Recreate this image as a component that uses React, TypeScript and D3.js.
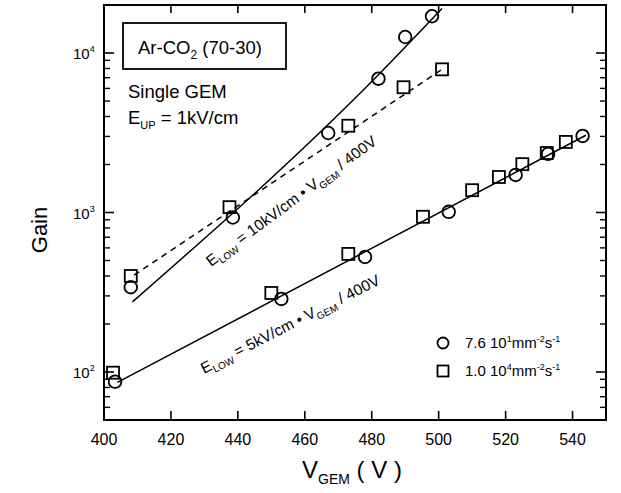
import React from "react";
import * as d3 from "d3";

// ---- data ----
const xTicks = [400, 420, 440, 460, 480, 500, 520, 540];
const yMajor = [100, 1000, 10000];
const yMajorExp = ["2", "3", "4"];

// E_LOW = 10 kV/cm series
const upperCircleV = [408, 438.5, 467, 482, 490, 498];
const upperCircleG = [340, 930, 3150, 6900, 12600, 17000];
const upperSquareV = [408, 437.5, 473, 489.5, 501];
const upperSquareG = [400, 1080, 3500, 6100, 7900];

// E_LOW = 5 kV/cm series
const lowerCircleV = [403.3, 453, 478, 503, 523, 532.7, 543];
const lowerCircleG = [87, 287, 526, 1010, 1720, 2330, 3020];
const lowerSquareV = [402.7, 450, 473, 495.3, 510, 518, 525, 532.3, 538];
const lowerSquareG = [99, 313, 550, 940, 1380, 1670, 2010, 2360, 2770];

// fit lines
const upperFitV = [408.5, 482, 501];
const upperFitG = [275, 7300, 19000];
const dashFitV = [409, 501];
const dashFitG = [405, 7900];
const lowerFitV = [404, 544];
const lowerFitG = [86, 3050];

const FONT = "'Liberation Sans', Arial, Helvetica, sans-serif";

export default function App() {
  const W = 621, H = 493;
  const left = 104, right = 606, top = 5, bottom = 420;
  const x = d3.scaleLinear().domain([400, 550]).range([left, right]);
  const y = d3.scaleLog().domain([50, 20000]).range([bottom, top]);

  const zip = (vs: number[], gs: number[]) => vs.map((v, i) => [v, gs[i]] as [number, number]);
  const line = d3.line<[number, number]>().x(d => x(d[0])).y(d => y(d[1]));
  const smooth = d3.line<[number, number]>().x(d => x(d[0])).y(d => y(d[1])).curve(d3.curveMonotoneX);

  const minorTicks: number[] = [];
  [10, 100, 1000, 10000].forEach(dec => {
    for (let k = 2; k <= 9; k++) {
      const v = dec * k;
      if (v >= 50 && v <= 20000) minorTicks.push(v);
    }
  });

  const circles = [...zip(upperCircleV, upperCircleG), ...zip(lowerCircleV, lowerCircleG)];
  const squares = [...zip(upperSquareV, upperSquareG), ...zip(lowerSquareV, lowerSquareG)];
  const r = 6.3, s = 12;

  return (
    <svg width={W} height={H} style={{ position: "absolute", left: 0, top: 0, background: "#fff" }} fontFamily={FONT}>
      <rect x={0} y={0} width={W} height={H} fill="#fff" />
      {/* frame */}
      <rect x={left} y={top} width={right - left} height={bottom - top} fill="none" stroke="#000" strokeWidth={2} />
      {/* x ticks */}
      {xTicks.map(t => (
        <g key={"xt" + t}>
          <line x1={x(t)} x2={x(t)} y1={bottom} y2={bottom - 9} stroke="#000" strokeWidth={1.6} />
          <line x1={x(t)} x2={x(t)} y1={top} y2={top + 8} stroke="#000" strokeWidth={1.6} />
          <text x={x(t)} y={bottom + 25} textAnchor="middle" fontSize={16}>{t}</text>
        </g>
      ))}
      {/* y ticks */}
      {yMajor.map((t, i) => (
        <g key={"ym" + t}>
          <line x1={left} x2={left + 10} y1={y(t)} y2={y(t)} stroke="#000" strokeWidth={1.6} />
          <line x1={right} x2={right - 10} y1={y(t)} y2={y(t)} stroke="#000" strokeWidth={1.6} />
          <text x={73} y={y(t) + 6} fontSize={15}>
            10<tspan dy={-7} fontSize={9}>{yMajorExp[i]}</tspan>
          </text>
        </g>
      ))}
      {minorTicks.map(t => (
        <g key={"ymi" + t}>
          <line x1={left} x2={left + 6} y1={y(t)} y2={y(t)} stroke="#000" strokeWidth={1.4} />
          <line x1={right} x2={right - 6} y1={y(t)} y2={y(t)} stroke="#000" strokeWidth={1.4} />
        </g>
      ))}
      {/* fit lines */}
      <path d={smooth(zip(upperFitV, upperFitG)) || ""} fill="none" stroke="#000" strokeWidth={1.5} />
      <path d={line(zip(dashFitV, dashFitG)) || ""} fill="none" stroke="#000" strokeWidth={1.5} strokeDasharray="6,5" />
      <path d={line(zip(lowerFitV, lowerFitG)) || ""} fill="none" stroke="#000" strokeWidth={1.5} />
      {/* markers */}
      {squares.map((d, i) => (
        <rect key={"sq" + i} x={x(d[0]) - s / 2} y={y(d[1]) - s / 2} width={s} height={s} fill="none" stroke="#000" strokeWidth={1.8} />
      ))}
      {circles.map((d, i) => (
        <circle key={"c" + i} cx={x(d[0])} cy={y(d[1])} r={r} fill="none" stroke="#000" strokeWidth={1.8} />
      ))}
      {/* info box */}
      <rect x={123} y={23} width={163} height={46} fill="#fff" stroke="#000" strokeWidth={1.8} />
      <text x={138} y={54} fontSize={18.5}>
        Ar-CO<tspan dy={5} fontSize={12}>2</tspan><tspan dy={-5}> (70-30)</tspan>
      </text>
      <text x={128} y={98} fontSize={18.5}>Single GEM</text>
      <text x={128} y={124} fontSize={18.5}>
        E<tspan dy={5} fontSize={11}>UP</tspan><tspan dy={-5}> = 1kV/cm</tspan>
      </text>
      {/* annotations */}
      <text transform="translate(211,267) rotate(-36.5)" fontSize={15.5}>
        E<tspan dy={4} fontSize={10}>LOW</tspan><tspan dy={-4}> = 10kV/cm • V</tspan><tspan dy={4} fontSize={10}>GEM</tspan><tspan dy={-4}> / 400V</tspan>
      </text>
      <text transform="translate(204,374) rotate(-27)" fontSize={15.5}>
        E<tspan dy={4} fontSize={10}>LOW</tspan><tspan dy={-4}> = 5kV/cm • V</tspan><tspan dy={4} fontSize={10}>GEM</tspan><tspan dy={-4}> / 400V</tspan>
      </text>
      {/* legend */}
      <circle cx={443} cy={343} r={5.5} fill="none" stroke="#000" strokeWidth={1.8} />
      <text x={465} y={348} fontSize={15}>
        7.6 10<tspan dy={-6} fontSize={9}>1</tspan><tspan dy={6}>mm</tspan><tspan dy={-6} fontSize={9}>-2</tspan><tspan dy={6}>s</tspan><tspan dy={-6} fontSize={9}>-1</tspan>
      </text>
      <rect x={437.5} y={365.5} width={11} height={11} fill="none" stroke="#000" strokeWidth={1.8} />
      <text x={465} y={376} fontSize={15}>
        1.0 10<tspan dy={-6} fontSize={9}>4</tspan><tspan dy={6}>mm</tspan><tspan dy={-6} fontSize={9}>-2</tspan><tspan dy={6}>s</tspan><tspan dy={-6} fontSize={9}>-1</tspan>
      </text>
      {/* axis titles */}
      <text transform="translate(47,230) rotate(-90)" textAnchor="middle" fontSize={22}>Gain</text>
      <text x={302} y={478} fontSize={24}>
        V<tspan dy={6} fontSize={14}>GEM</tspan><tspan dy={-6}> ( V )</tspan>
      </text>
    </svg>
  );
}
